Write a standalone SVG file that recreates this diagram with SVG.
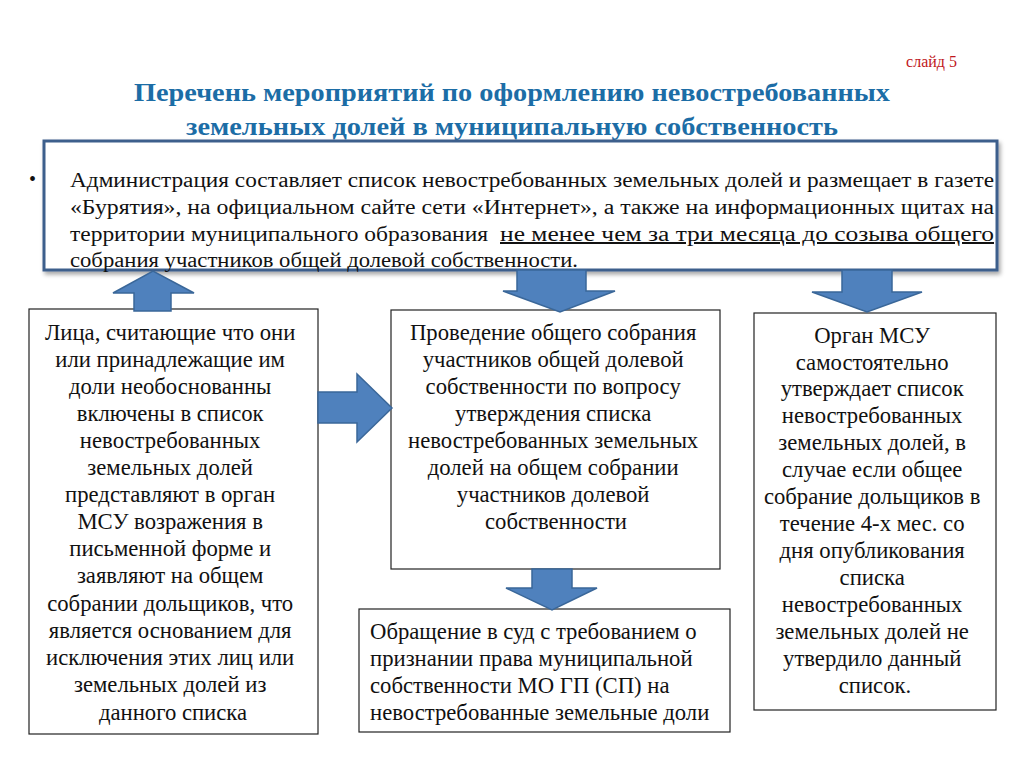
<svg xmlns="http://www.w3.org/2000/svg" width="1024" height="768" viewBox="0 0 1024 768">
<defs>
<style>
.t{font-family:"Liberation Serif","Times New Roman",serif;font-size:20px;fill:#111;}
.b{font-family:"Liberation Serif","Times New Roman",serif;font-size:22.7px;fill:#111;}
.c{text-anchor:middle;}
.box{fill:#fff;stroke:#222;stroke-width:1.2;}
.arr{fill:#4f81bd;stroke:#3a6799;stroke-width:1.5;stroke-linejoin:miter;}
.title{font-family:"Liberation Serif","Times New Roman",serif;font-size:25px;font-weight:bold;fill:#1c6da6;text-anchor:middle;}
</style>
<filter id="sh" x="-5%" y="-5%" width="110%" height="120%">
<feDropShadow dx="2" dy="3" stdDeviation="2" flood-color="#000" flood-opacity="0.35"/>
</filter>
</defs>
<rect width="1024" height="768" fill="#fff"/>
<text x="957" y="67" style="font-family:'Liberation Serif',serif;font-size:16px;fill:#c0161c;text-anchor:end;">слайд 5</text>
<text class="title" x="512" y="101" textLength="756" lengthAdjust="spacingAndGlyphs">Перечень мероприятий по оформлению невостребованных</text>
<text class="title" x="512" y="135" textLength="652" lengthAdjust="spacingAndGlyphs">земельных долей в муниципальную собственность</text>

<g id="node-admin">
<rect x="44" y="141" width="953" height="129" fill="#fff" stroke="#3c5f8c" stroke-width="3" filter="url(#sh)"/>
<text x="29" y="186" style="font-family:'Liberation Serif',serif;font-size:20px;fill:#111;">•</text>
<text class="t" x="70" y="187" textLength="924" lengthAdjust="spacingAndGlyphs">Администрация составляет список невостребованных земельных долей и размещает в газете</text>
<text class="t" x="70" y="214" textLength="924" lengthAdjust="spacingAndGlyphs">«Бурятия», на официальном сайте сети «Интернет», а также на информационных щитах на</text>
<text class="t" x="70" y="241" textLength="418" lengthAdjust="spacingAndGlyphs">территории муниципального образования</text>
<text class="t" x="500" y="241" textLength="494" lengthAdjust="spacingAndGlyphs" text-decoration="underline">не менее чем за три месяца до созыва общего</text>
<text class="t" x="70" y="267" textLength="508" lengthAdjust="spacingAndGlyphs">собрания участников общей долевой собственности.</text>
</g>

<g id="node-objections">
<rect class="box" x="29" y="309" width="289" height="425"/>
<text class="b c">
<tspan x="173" y="340">Лица, считающие что они</tspan>
<tspan x="173" y="367">или принадлежащие им</tspan>
<tspan x="173" y="394">доли необоснованны</tspan>
<tspan x="173" y="421">включены в список</tspan>
<tspan x="173" y="448">невостребованных</tspan>
<tspan x="173" y="475">земельных долей</tspan>
<tspan x="173" y="502">представляют в орган</tspan>
<tspan x="173" y="529">МСУ возражения в</tspan>
<tspan x="173" y="556">письменной форме и</tspan>
<tspan x="173" y="583">заявляют на общем</tspan>
<tspan x="173" y="611">собрании дольщиков, что</tspan>
<tspan x="173" y="638">является основанием для</tspan>
<tspan x="173" y="665">исключения этих лиц или</tspan>
<tspan x="173" y="692">земельных долей из</tspan>
<tspan x="173" y="720">данного списка</tspan>
</text>
</g>

<g id="node-meeting">
<rect class="box" x="391" y="310" width="329" height="259"/>
<text class="b c">
<tspan x="556" y="340">Проведение общего собрания</tspan>
<tspan x="556" y="367">участников общей долевой</tspan>
<tspan x="556" y="394">собственности по вопросу</tspan>
<tspan x="556" y="421">утверждения списка</tspan>
<tspan x="556" y="448">невостребованных земельных</tspan>
<tspan x="556" y="475">долей на общем собрании</tspan>
<tspan x="556" y="502">участников  долевой</tspan>
<tspan x="556" y="529">собственности</tspan>
</text>
</g>

<g id="node-court">
<rect class="box" x="359" y="609" width="371" height="123"/>
<text class="b">
<tspan x="370" y="639">Обращение в суд с требованием о</tspan>
<tspan x="370" y="666">признании права муниципальной</tspan>
<tspan x="370" y="693">собственности МО ГП (СП) на</tspan>
<tspan x="370" y="720">невостребованные земельные доли</tspan>
</text>
</g>

<g id="node-msu">
<rect class="box" x="754" y="313" width="242" height="397"/>
<text class="b c">
<tspan x="875" y="343">Орган МСУ</tspan>
<tspan x="875" y="370">самостоятельно</tspan>
<tspan x="875" y="396">утверждает список</tspan>
<tspan x="875" y="423">невостребованных</tspan>
<tspan x="875" y="450">земельных долей, в</tspan>
<tspan x="875" y="477">случае если общее</tspan>
<tspan x="875" y="504">собрание дольщиков в</tspan>
<tspan x="875" y="531">течение 4-х мес. со</tspan>
<tspan x="875" y="558">дня опубликования</tspan>
<tspan x="875" y="585">списка</tspan>
<tspan x="875" y="612">невостребованных</tspan>
<tspan x="875" y="639">земельных долей не</tspan>
<tspan x="875" y="666">утвердило данный</tspan>
<tspan x="875" y="693">список.</tspan>
</text>
</g>

<g id="connectors">
<polygon class="arr" points="134,311 134,293 113,293 153,271 194,293 171,293 171,311"/>
<polygon class="arr" points="517,270 586,270 586,291 615,291 560,312 503,291 517,291"/>
<polygon class="arr" points="842,270 892,270 892,292 922,292 867,312 812,292 842,292"/>
<polygon class="arr" points="318,392 357,392 357,374 392,408 357,442 357,423 318,423"/>
<polygon class="arr" points="532,569 572,569 572,588 597,588 552,610 506,588 532,588"/>
</g>
</svg>
